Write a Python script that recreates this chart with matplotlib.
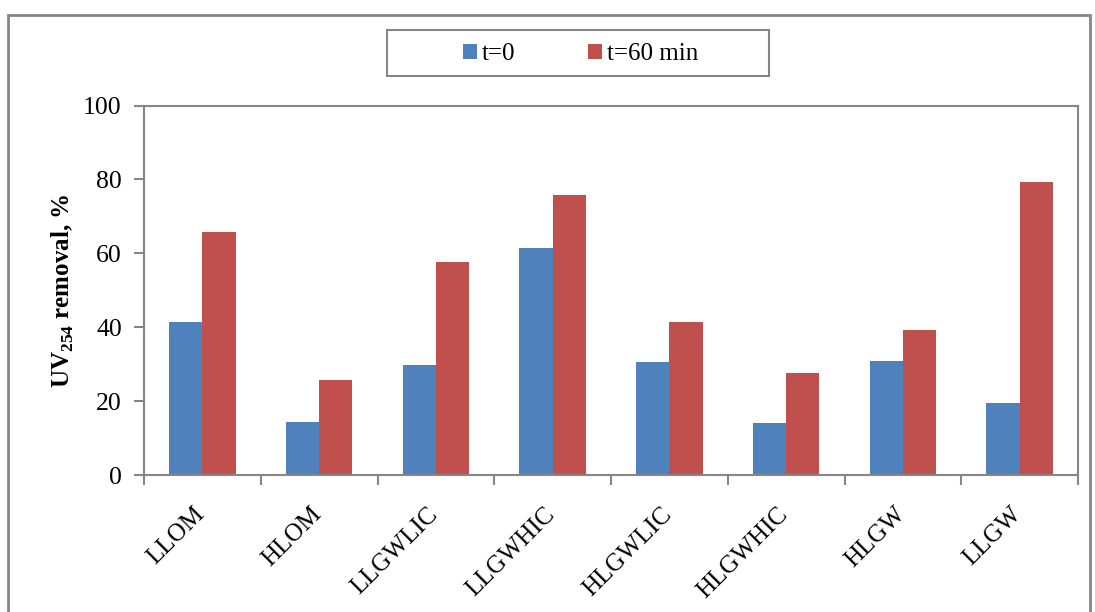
import matplotlib.pyplot as plt
import matplotlib.transforms as mtransforms
import numpy as np
from matplotlib.patches import Rectangle

plt.rcParams["font.family"] = "Liberation Serif"
plt.rcParams["mathtext.fontset"] = "custom"
plt.rcParams["mathtext.rm"] = "Liberation Serif"
plt.rcParams["mathtext.bf"] = "Liberation Serif:bold"

samples = ["LLOM", "HLOM", "LLGWLIC", "LLGWHIC", "HLGWLIC", "HLGWHIC", "HLGW", "LLGW"]
removal_t0 = [41.4, 14.4, 29.9, 61.6, 30.7, 14.2, 31.0, 19.6]
removal_t60 = [65.8, 25.7, 57.8, 75.7, 41.5, 27.6, 39.4, 79.3]

blue = "#4f81bd"
red = "#c0504d"
grey = "#868686"

fig = plt.figure(figsize=(10.95, 6.12), dpi=100)
ax = fig.add_axes([0.1315, 0.2234, 0.8530, 0.6042])

x = np.arange(len(samples))
w = 0.285
ax.bar(x - w / 2, removal_t0, w, color=blue, label="t=0")
ax.bar(x + w / 2, removal_t60, w, color=red, label="t=60 min")

ax.set_xlim(-0.5, len(samples) - 0.5)
ax.set_ylim(0, 100)
ax.set_yticks(np.arange(0, 101, 20))

# category ticks sit between the groups
ax.set_xticks(np.arange(-0.5, len(samples)))
ax.set_xticklabels([])
ax.tick_params(axis="x", length=7, color=grey, width=1.5)
ax.tick_params(axis="y", length=7, color=grey, width=1.5, labelsize=18.5, pad=9)

# rotated group names under each pair of bars
lab_trans = ax.get_xaxis_transform() + mtransforms.ScaledTranslation(
    -9 / 100, -28 / 100, fig.dpi_scale_trans)
for xi, name in zip(x, samples):
    ax.text(xi, 0, name, transform=lab_trans, rotation=45, ha="right",
            va="top", rotation_mode="anchor", fontsize=18)

for s in ax.spines.values():
    s.set_color(grey)
    s.set_linewidth(1.5)

ax.set_ylabel(r"$\mathbf{UV}_{\mathbf{254}}$ removal, %", fontsize=18,
              fontweight="bold", labelpad=5)

leg = fig.legend(loc="center", bbox_to_anchor=(0.530, 0.9118), ncol=2,
                 fontsize=18, frameon=False, handlelength=0.56,
                 handleheight=0.56, handletextpad=0.2, columnspacing=2.9)

# legend box and outer chart frame
fig.patches.append(Rectangle((387 / 1095, 1 - 76 / 612), 382 / 1095, 46 / 612,
                             transform=fig.transFigure, fill=False,
                             edgecolor=grey, linewidth=1.5))
fig.patches.append(Rectangle((0.0075, -0.05), 0.988, 1.025, transform=fig.transFigure,
                             fill=False, edgecolor=grey, linewidth=2))

fig.savefig("out.png", dpi=100)
